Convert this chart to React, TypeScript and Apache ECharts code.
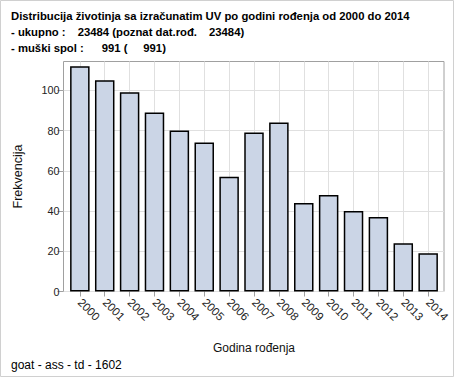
import React, { useEffect, useRef } from "react";
import * as echarts from "echarts";

const categories = ["2000","2001","2002","2003","2004","2005","2006","2007","2008","2009","2010","2011","2012","2013","2014"];
const frequencies = [112, 105, 99, 89, 80, 74, 57, 79, 84, 44, 48, 40, 37, 24, 19];
const yTicks = [0, 20, 40, 60, 80, 100];
const titleLine1 = "Distribucija životinja sa izračunatim UV po godini rođenja od 2000 do 2014";
const footnote = "goat - ass - td - 1602";

const FONT = "'Liberation Sans', Arial, sans-serif";

export default function App() {
  const ref = useRef<HTMLDivElement>(null);
  useEffect(() => {
    if (!ref.current) return;
    const chart = echarts.init(ref.current, null, { renderer: "svg" });
    const yMax = 114.3;
    const txt = (x: number, y: number, text: string, bold = true, size = 11.3) => ({
      type: "text",
      x,
      y,
      style: { text, fill: "#000", font: `${bold ? "bold " : ""}${size}px ${FONT}`, textVerticalAlign: "middle" },
    });
    chart.setOption({
      animation: false,
      backgroundColor: "#fff",
      grid: [
        { left: 67.4, right: 13.4, top: 61.5, bottom: 86.5, show: false },
        { left: 63.5, right: 10, top: 61.5, bottom: 86.5, show: true, borderColor: "#a0a0a0", borderWidth: 1, backgroundColor: "transparent" },
      ],
      xAxis: [
        {
          type: "category",
          gridIndex: 0,
          data: categories,
          axisLine: { show: false },
          axisTick: { show: true, alignWithLabel: true, length: 5, lineStyle: { color: "#a0a0a0" } },
          splitLine: { show: true, alignWithLabel: true, lineStyle: { color: "#e0e0e0", width: 1 } },
          axisLabel: { rotate: -45, color: "#222", fontSize: 11.5, fontFamily: FONT, margin: 9, interval: 0, padding: [8, 0, 0, 0] },
          name: "Godina rođenja",
          nameLocation: "middle",
          nameGap: 50,
          nameTextStyle: { color: "#111", fontSize: 12, fontFamily: FONT },
        },
        { type: "value", gridIndex: 1, show: false, min: 0, max: 1 },
      ],
      yAxis: [
        { type: "value", gridIndex: 0, show: false, min: 0, max: yMax },
        {
          type: "value",
          gridIndex: 1,
          min: 0,
          max: yMax,
          interval: 20,
          axisLine: { show: false },
          axisTick: { show: true, length: 6, lineStyle: { color: "#a0a0a0" }, customValues: yTicks },
          axisLabel: { color: "#222", fontSize: 10.8, fontFamily: FONT, margin: 4, customValues: yTicks },
          splitLine: { show: true, lineStyle: { color: "#e0e0e0", width: 1 } },
          name: "Frekvencija",
          nameLocation: "middle",
          nameGap: 39,
          nameTextStyle: { color: "#111", fontSize: 12.5, fontFamily: FONT },
        },
      ],
      series: [
        {
          type: "bar",
          xAxisIndex: 0,
          yAxisIndex: 0,
          data: frequencies,
          barWidth: 19.5,
          itemStyle: { color: "#cbd5e6", borderColor: "#000", borderWidth: 1.5 },
        },
      ],
      graphic: [
        { type: "rect", shape: { x: 0.5, y: 0.5, width: 453, height: 376 }, style: { fill: "none", stroke: "#d0d0d0", lineWidth: 1 } },
        txt(11, 15.7, titleLine1),
        txt(11, 32.3, "- ukupno :"),
        txt(77.7, 32.3, "23484 (poznat dat.rođ."),
        txt(209, 32.3, "23484)"),
        txt(11, 48.3, "- muški spol :"),
        txt(101.7, 48.3, "991 ("),
        txt(143.3, 48.3, "991)"),
        txt(11, 364.5, footnote, false, 12),
      ],
    });
    return () => chart.dispose();
  }, []);
  return <div ref={ref} style={{ position: "fixed", left: 0, top: 0, width: 454, height: 378 }} />;
}
